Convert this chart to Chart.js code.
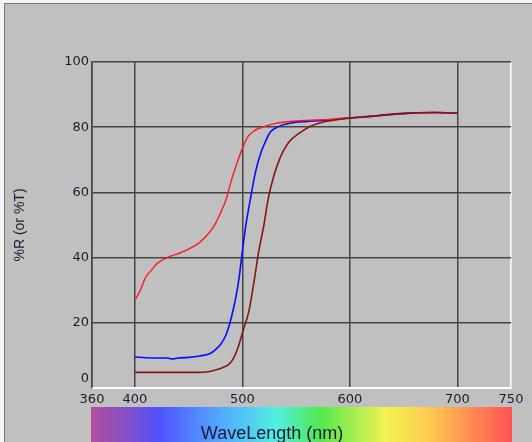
<!DOCTYPE html>
<html>
<head>
<meta charset="utf-8">
<script src="https://cdn.jsdelivr.net/npm/chart.js@4/dist/chart.umd.min.js"></script>
<style>
  body { margin: 0; background: #f4f4f4; }
  #frame {
    position: absolute; left: 4px; top: 3px;
    width: 527px; height: 438px;
    border-left: 1px solid #7a7a7a; border-top: 1px solid #7a7a7a;
    background: #c0c0c0; overflow: hidden;
  }
  canvas { display: block; }
</style>
</head>
<body>
<div id="frame"><canvas id="specChart" width="527" height="438"></canvas></div>
<script>
// tick labels
var xTicks = [360, 400, 500, 600, 700, 750];
var yTicks = [0, 20, 40, 60, 80, 100];

// red curve
var redNm  = [400, 405, 410, 415, 420, 430, 440, 450, 460, 470, 475, 480, 485, 490, 495, 500, 505, 510, 520, 530, 540, 550, 560, 580, 600, 620, 640, 660, 680, 700];
var redPct = [27, 30, 34, 36, 38, 40, 41.2, 42.6, 44.6, 48, 50.5, 54, 58, 64, 69, 73.5, 77, 78.7, 80.2, 81.1, 81.6, 81.9, 82.1, 82.4, 82.9, 83.4, 84.0, 84.4, 84.5, 84.3];

// blue curve
var blueNm  = [400, 410, 420, 430, 435, 440, 450, 460, 470, 475, 480, 485, 490, 494, 497, 500, 503, 508, 512, 517, 522, 526, 533, 545, 560, 580, 600, 620, 640, 660, 680, 700];
var bluePct = [9.5, 9.3, 9.2, 9.2, 8.9, 9.2, 9.4, 9.8, 10.6, 11.8, 13.5, 16.5, 22, 28, 34, 42, 49.5, 59, 66, 72, 76, 78.5, 80.1, 81.3, 81.8, 82.2, 82.8, 83.3, 83.9, 84.4, 84.5, 84.3];

// dark red curve
var darkNm  = [400, 420, 440, 460, 468, 475, 482, 487, 491, 496, 501, 506, 510, 515, 520, 524, 529, 535, 543, 554, 563, 571, 580, 600, 620, 640, 660, 680, 700];
var darkPct = [4.8, 4.8, 4.8, 4.8, 5, 5.5, 6.3, 7.2, 8.7, 12.5, 18, 23.5, 31, 41.5, 50, 58, 64.8, 70.5, 75.3, 78.4, 80.2, 81.2, 81.9, 82.8, 83.4, 84.0, 84.4, 84.5, 84.3];

// spectrum bar colours (left -> right)
var spectrum = [
  [0.00, '#b24ea0'], [0.10, '#7c50d0'], [0.16, '#5252ff'], [0.32, '#52b0ff'],
  [0.44, '#50f0e2'], [0.545, '#52e84e'], [0.70, '#f2f250'], [0.80, '#ffcc52'],
  [0.905, '#ff8a52'], [1.00, '#ff5252']
];

function toPoints(xs, ys) {
  return xs.map(function (x, i) { return { x: x, y: ys[i] }; });
}

var spectrumBar = {
  id: 'spectrumBar',
  afterDraw: function (chart) {
    var ctx = chart.ctx, area = chart.chartArea;
    var left = area.left - 1, right = area.right + 1, top = 403;
    var g = ctx.createLinearGradient(left, 0, right, 0);
    spectrum.forEach(function (s) { g.addColorStop(s[0], s[1]); });
    ctx.save();
    ctx.fillStyle = g;
    ctx.fillRect(left, top, right - left, chart.height - top);
    ctx.fillStyle = '#1a1a33';
    ctx.font = '18px "Liberation Sans", Arial, sans-serif';
    ctx.textAlign = 'center';
    ctx.textBaseline = 'alphabetic';
    ctx.fillText('WaveLength (nm)', 267, 435);
    ctx.restore();
  }
};

var tickFont = { family: '"DejaVu Sans", sans-serif', size: 13, lineHeight: 1.4 };

var ctx = document.getElementById('specChart').getContext('2d');
var chart = new Chart(ctx, {
  type: 'line',
  data: {
    datasets: [
      { data: toPoints(darkNm, darkPct), borderColor: '#8a1414', borderWidth: 1.6 },
      { data: toPoints(redNm, redPct), borderColor: '#ff1a1a', borderWidth: 1.4 },
      { data: toPoints(blueNm, bluePct), borderColor: '#0a0aff', borderWidth: 1.6 }
    ]
  },
  options: {
    responsive: false,
    animation: false,
    events: [],
    parsing: false,
    elements: { point: { radius: 0 }, line: { cubicInterpolationMode: 'monotone', fill: false } },
    layout: { padding: { top: 58, right: 21, left: 0, bottom: 0 } },
    plugins: { legend: { display: false }, tooltip: { enabled: false } },
    scales: {
      x: {
        type: 'linear',
        min: 360,
        max: 750,
        afterBuildTicks: function (s) { s.ticks = xTicks.map(function (v) { return { value: v }; }); },
        afterFit: function (s) { s.height = 54; },
        grid: {
          drawTicks: false,
          lineWidth: 1.5,
          color: function (c) { return c.tick && c.tick.value === 750 ? '#ffffff' : '#444444'; }
        },
        border: { color: '#ffffff', width: 2 },
        ticks: { color: '#1a1a30', font: tickFont, padding: 3, maxRotation: 0, autoSkip: false }
      },
      y: {
        min: 0,
        max: 100,
        afterBuildTicks: function (s) { s.ticks = yTicks.map(function (v) { return { value: v }; }); },
        afterFit: function (s) { s.width = 87; },
        grid: {
          drawTicks: false,
          lineWidth: 1.5,
          color: function (c) { return c.tick && c.tick.value === 0 ? '#ffffff' : '#444444'; }
        },
        border: { color: '#444444', width: 1.5 },
        ticks: {
          color: '#1a1a30',
          font: tickFont,
          padding: 3,
          callback: function (v) { return v === 0 ? ['0', ''] : String(v); }
        },
        title: {
          display: true,
          text: '%R (or %T)',
          color: '#1a1a30',
          font: { family: '"Liberation Sans", Arial, sans-serif', size: 14 },
          padding: { top: 7, bottom: 0 }
        }
      }
    }
  },
  plugins: [spectrumBar]
});
</script>
</body>
</html>
